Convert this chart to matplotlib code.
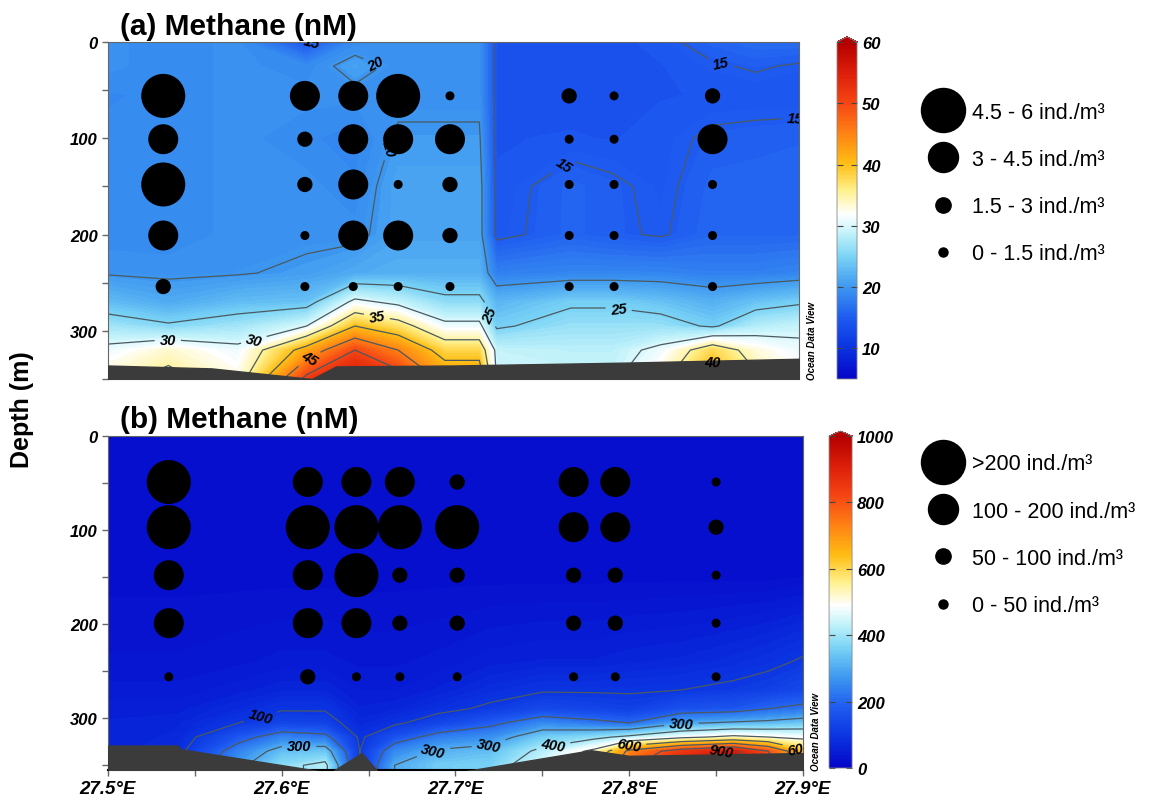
import numpy as np
import matplotlib.pyplot as plt
from matplotlib.colors import LinearSegmentedColormap, Normalize
from matplotlib.cm import ScalarMappable
from matplotlib.lines import Line2D

plt.rcParams['font.family'] = ['Liberation Sans', 'DejaVu Sans']

# ---------------- panel (a): methane field (nM)
lon_a = [27.50, 27.535, 27.575, 27.615, 27.643, 27.668, 27.695, 27.715,
         27.725, 27.768, 27.792, 27.82, 27.85, 27.875, 27.90]
dep_a = [0, 25, 55, 100, 150, 200, 240, 270, 295, 320, 352]
ch4_a = [
    [19.5, 19.0, 19.5, 14.5, 19.0, 19.5, 19.5, 19.5, 14.2, 14.0, 14.0, 14.5, 15.8, 16.5, 16.5],
    [19.5, 19.0, 19.5, 19.0, 20.8, 19.5, 19.5, 19.5, 14.2, 14.0, 14.0, 14.2, 14.8, 15.2, 14.8],
    [18.8, 19.0, 19.5, 19.5, 19.5, 19.5, 19.5, 19.5, 14.2, 14.0, 14.0, 14.2, 14.3, 14.3, 14.3],
    [19.0, 19.0, 19.5, 19.0, 18.5, 20.3, 20.3, 20.3, 14.2, 14.3, 14.2, 14.5, 15.3, 15.5, 15.6],
    [19.0, 19.0, 19.5, 19.5, 19.0, 21.0, 21.0, 21.0, 14.3, 15.8, 15.3, 14.6, 15.8, 15.8, 15.8],
    [19.0, 19.0, 19.5, 19.5, 19.5, 21.0, 21.0, 21.0, 14.5, 15.8, 15.3, 14.8, 16.0, 16.0, 16.0],
    [19.8, 19.6, 19.8, 20.5, 21.5, 22.0, 22.0, 22.0, 18.0, 18.5, 18.5, 18.5, 18.0, 18.0, 18.5],
    [23.0, 21.5, 23.0, 23.5, 31.0, 29.0, 26.0, 26.0, 22.5, 24.5, 24.5, 23.5, 22.0, 23.5, 24.5],
    [27.0, 25.5, 27.0, 30.0, 40.0, 37.0, 31.0, 31.0, 24.5, 26.5, 26.5, 26.5, 24.5, 28.0, 29.0],
    [31.0, 33.5, 31.0, 42.0, 50.0, 45.0, 38.0, 38.0, 29.0, 28.5, 28.5, 31.0, 38.0, 33.0, 31.0],
    [34.0, 36.5, 33.0, 52.0, 57.0, 53.0, 44.0, 44.0, 30.0, 29.5, 29.5, 34.0, 43.0, 36.0, 33.0],
]
bot_lon_a = [27.50, 27.56, 27.618, 27.632, 27.70, 27.80, 27.90]
bot_dep_a = [336, 339, 350, 337, 336, 333, 329]

# ---------------- panel (b): methane field (nM)
lon_b = [27.50, 27.54, 27.575, 27.60, 27.625, 27.645, 27.665, 27.69,
         27.72, 27.75, 27.78, 27.80, 27.83, 27.86, 27.88, 27.90]
dep_b = [0, 150, 240, 270, 290, 305, 320, 335, 350, 360]
ch4_b = [
    [18, 18, 18, 18, 18, 18, 18, 18, 18, 18, 18, 18, 18, 18, 18, 18],
    [22, 22, 22, 22, 22, 22, 22, 22, 22, 22, 22, 22, 22, 22, 22, 25],
    [35, 35, 40, 45, 45, 40, 40, 45, 55, 60, 60, 65, 70, 80, 90, 105],
    [45, 45, 55, 65, 65, 50, 50, 60, 80, 95, 95, 95, 100, 110, 120, 140],
    [55, 55, 75, 95, 95, 60, 65, 85, 110, 140, 130, 120, 160, 170, 200, 220],
    [60, 65, 100, 130, 125, 70, 90, 130, 180, 250, 220, 200, 290, 310, 320, 340],
    [60, 70, 170, 240, 220, 90, 160, 230, 260, 350, 380, 420, 480, 520, 500, 480],
    [60, 80, 240, 330, 340, 100, 250, 310, 330, 420, 520, 720, 850, 920, 800, 620],
    [60, 90, 280, 380, 420, 100, 300, 350, 360, 460, 560, 780, 900, 960, 850, 650],
    [60, 90, 280, 380, 420, 100, 300, 350, 360, 460, 560, 780, 900, 960, 850, 650],
]
bot_lon_b = [27.50, 27.54, 27.542, 27.628, 27.646, 27.656, 27.70, 27.778, 27.80, 27.90]
bot_dep_b = [329, 329, 333, 358, 337, 358, 358, 334, 340, 337]

# ---------------- abundance bubbles (class 0..3 per station, per depth)
st_lon_a = [27.532, 27.614, 27.642, 27.668, 27.698, 27.767, 27.793, 27.850]
st_dep_a = [56, 101, 148, 201, 254]
cls_a = [
    [3, 2, 3, 2, 1],
    [2, 1, 1, 0, 0],
    [2, 2, 2, 2, 0],
    [3, 2, 0, 2, 0],
    [0, 2, 1, 1, 0],
    [1, 0, 0, 0, 0],
    [0, 0, 0, 0, 0],
    [1, 2, 0, 0, 0],
]
labels_a = ['4.5 - 6 ind./m³', '3 - 4.5 ind./m³', '1.5 - 3 ind./m³', '0 - 1.5 ind./m³']

st_lon_b = [27.535, 27.615, 27.643, 27.668, 27.701, 27.768, 27.792, 27.850]
st_dep_b = [49, 97, 148, 199, 256]
cls_b = [
    [3, 3, 2, 2, 0],
    [2, 3, 2, 2, 1],
    [2, 3, 3, 2, 0],
    [2, 3, 1, 1, 0],
    [1, 3, 1, 1, 0],
    [2, 2, 1, 1, 0],
    [2, 2, 1, 1, 0],
    [0, 1, 0, 0, 0],
]
labels_b = ['>200 ind./m³', '100 - 200 ind./m³', '50 - 100 ind./m³', '0 - 50 ind./m³']

bubble_diam = [6.5, 11, 21.6, 31.7]   # points

odv = LinearSegmentedColormap.from_list('odv', [
    (0.00, '#0505c8'), (0.09, '#0a32e0'), (0.18, '#1e5af0'), (0.27, '#3c96f0'),
    (0.36, '#78d2f5'), (0.43, '#c0f2fa'), (0.49, '#ffffff'), (0.56, '#fff08c'),
    (0.64, '#ffbe14'), (0.73, '#ff8214'), (0.82, '#f54614'), (0.91, '#dc1e0a'),
    (1.00, '#b40000')])

fig = plt.figure(figsize=(11.51, 8.03), dpi=100)
ax_a = fig.add_axes([0.0938, 0.5268, 0.6003, 0.4197])
ax_b = fig.add_axes([0.0938, 0.0399, 0.6038, 0.416])
cax_a = fig.add_axes([0.7272, 0.5268, 0.0174, 0.4260])
cax_b = fig.add_axes([0.7203, 0.0423, 0.0200, 0.4197])

tickfont = dict(fontsize=12, fontweight='bold', fontstyle='italic')


def draw_panel(ax, cax, lon, dep, val, vmin, vmax, lines, bot_lon, bot_dep,
               st_lon, st_dep, cls, ymax, label_pos, cbticks):
    val = np.array(val, dtype=float)
    ax.contourf(lon, dep, val, levels=np.linspace(vmin, vmax, 120), cmap=odv,
                extend='both')
    cs = ax.contour(lon, dep, val, levels=lines, colors='#4a5a60', linewidths=0.9)
    lbl = ax.clabel(cs, fmt='%d', fontsize=10.5, manual=label_pos, inline=True)
    for t in lbl:
        t.set_color('black')
        t.set_fontweight('bold')
        t.set_fontstyle('italic')
    ax.fill_between(bot_lon, bot_dep, 400, color='#3b3b3b', zorder=3)

    xs = np.repeat(st_lon, len(st_dep))
    ys = np.tile(st_dep, len(st_lon))
    cl = np.array(cls).ravel()
    ax.scatter(xs, ys, s=np.array(bubble_diam)[cl] ** 2, color='black',
               linewidths=0, zorder=4)

    ax.set_xlim(27.5, 27.9)
    ax.set_ylim(ymax, 0)
    ax.set_yticks([0, 100, 200, 300])
    ax.set_yticks([50, 150, 250, 350], minor=True)
    ax.set_yticklabels(['0', '100', '200', '300'], **tickfont)
    ax.set_xticks([27.5, 27.6, 27.7, 27.8, 27.9])
    ax.set_xticks([27.55, 27.65, 27.75, 27.85], minor=True)
    ax.tick_params(which='both', direction='out', color='#666666', length=4, width=1)
    for sp in ax.spines.values():
        sp.set_color('#666666')
    ax.text(1.012, 0.0, 'Ocean Data View', transform=ax.transAxes, rotation=90,
            ha='left', va='bottom', fontsize=7, fontweight='bold', fontstyle='italic')

    sm = ScalarMappable(norm=Normalize(vmin, vmax), cmap=odv)
    cb = fig.colorbar(sm, cax=cax, extend='max', extendfrac=0.015)
    cb.set_ticks(cbticks)
    cb.ax.set_yticklabels([str(v) for v in cbticks], **tickfont)
    cb.ax.tick_params(direction='in', left=True, right=True, length=4, color='#444444')
    cb.outline.set_edgecolor('#888888')
    cb.outline.set_linewidth(0.6)


pos_a = [(27.625, 5), (27.655, 22), (27.672, 115), (27.855, 22), (27.768, 140),
         (27.898, 100), (27.72, 284), (27.796, 272), (27.655, 292), (27.585, 313),
         (27.535, 318), (27.617, 331), (27.848, 325)]
pos_b = [(27.589, 306), (27.61, 338), (27.687, 333), (27.719, 322), (27.83, 303),
         (27.756, 326), (27.80, 330), (27.853, 336), (27.898, 333)]

draw_panel(ax_a, cax_a, lon_a, dep_a, ch4_a, 5, 60, [15, 20, 25, 30, 35, 40, 45, 50, 55],
           bot_lon_a, bot_dep_a, st_lon_a, st_dep_a, cls_a, 350, pos_a,
           [10, 20, 30, 40, 50, 60])
draw_panel(ax_b, cax_b, lon_b, dep_b, ch4_b, 0, 1000, [100, 200, 300, 400, 500, 600, 700, 800, 900],
           bot_lon_b, bot_dep_b, st_lon_b, st_dep_b, cls_b, 355, pos_b,
           [0, 200, 400, 600, 800, 1000])

ax_a.tick_params(axis='x', which='both', bottom=False, labelbottom=False)
ax_b.set_xticklabels(['27.5°E', '27.6°E', '27.7°E', '27.8°E', '27.9°E'],
                     fontsize=13.5, fontweight='bold', fontstyle='italic')
ax_b.spines['bottom'].set_color('black')
ax_b.spines['bottom'].set_linewidth(1.5)

fig.text(120 / 1151, 1 - 35 / 803, '(a) Methane (nM)', fontsize=21.5, fontweight='bold',
         va='baseline', ha='left')
fig.text(120 / 1151, 1 - 428 / 803, '(b) Methane (nM)', fontsize=21.5, fontweight='bold',
         va='baseline', ha='left')
fig.text(22 / 1151, 1 - 410 / 803, 'Depth (m)', fontsize=18, fontweight='bold',
         rotation=90, ha='center', va='center')

for labels, top in [(labels_a, 0.8723), (labels_b, 0.4341)]:
    handles = [Line2D([], [], ls='', marker='o', color='black', markersize=d)
               for d in bubble_diam[::-1]]
    fig.legend(handles, labels, loc='upper left', bbox_to_anchor=(0.8006, top),
               frameon=False, fontsize=15.5, labelspacing=1.22, handlelength=2.0,
               handletextpad=0.35, borderpad=0, borderaxespad=0)

fig.savefig('out.png', dpi=100)
